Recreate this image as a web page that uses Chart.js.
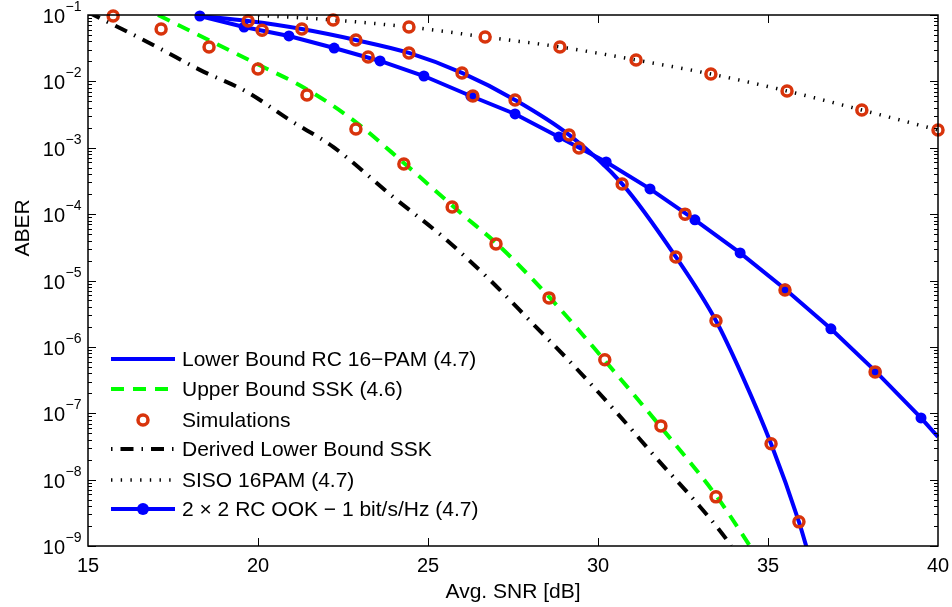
<!DOCTYPE html>
<html><head><meta charset="utf-8">
<style>html,body{margin:0;padding:0;background:#fff}#wrap{width:952px;height:607px;position:relative}</style>
<script src="https://cdn.jsdelivr.net/npm/chart.js@4.4.1/dist/chart.umd.min.js"></script>
</head><body><div id="wrap"><canvas id="c"></canvas></div>
<script>
// ---------------- data ----------------
const xTickValues = [15, 20, 25, 30, 35, 40];
const yTickExponents = [-1, -2, -3, -4, -5, -6, -7, -8, -9];

const lbRcSnr = [18.26, 19.71, 21.29, 22.88, 24.44, 26.0, 27.56, 29.15, 30.71, 32.29, 33.47, 34.26, 35.09, 35.91, 36.15];
const lbRcBer = [0.0966, 0.0812, 0.0615, 0.042, 0.0268, 0.0134, 0.00525, 0.00156, 2.85e-4, 2.26e-5, 2.47e-6, 3.5e-7, 3.46e-8, 2.31e-9, 9e-10];

const ubSskSnr = [17.06, 19.85, 21.38, 22.79, 24.29, 26.03, 27.03, 28.59, 30.18, 31.82, 33.5, 34.47];
const ubSskBer = [0.1, 0.0196, 0.0079, 0.00263, 5.9e-4, 9.7e-5, 3.56e-5, 5.47e-6, 6.4e-7, 6.45e-8, 5.5e-9, 1e-9];

const simSnr = [15.74, 17.15, 18.56, 20.0, 21.44, 22.88, 24.29, 25.71, 27.0, 28.56, 30.2, 31.85, 33.47,
                19.71, 21.29, 22.88, 24.44, 26.0, 27.56, 29.15, 30.71, 32.29, 33.47, 35.09, 35.91,
                20.12, 23.24, 26.32, 29.44, 32.56, 35.5, 38.15,
                22.21, 24.44, 26.68, 28.88, 31.12, 33.32, 35.56, 37.76, 40.0];
const simBer = [0.0966, 0.0615, 0.033, 0.0154, 0.00624, 0.00192, 5.7e-4, 1.28e-4, 3.56e-5, 5.47e-6, 6.4e-7, 6.45e-8, 5.5e-9,
                0.0812, 0.0615, 0.042, 0.0268, 0.0134, 0.00525, 0.00156, 2.85e-4, 2.26e-5, 2.47e-6, 3.46e-8, 2.31e-9,
                0.059, 0.0233, 0.006, 9.9e-4, 1.0e-4, 7.2e-6, 4.2e-7,
                0.0841, 0.0659, 0.0467, 0.033, 0.021, 0.0129, 0.00716, 0.0037, 0.00185];

const dlbSskSnr = [15.0, 15.35, 17.03, 18.29, 19.68, 20.94, 22.21, 23.97, 25.44, 26.82, 28.06, 29.32, 30.56, 31.76, 33.0, 33.79, 33.91];
const dlbSskBer = [0.11, 0.090, 0.033, 0.0149, 0.0069, 0.0026, 0.00103, 1.82e-4, 4.54e-5, 1.02e-5, 2.3e-6, 5.0e-7, 1.01e-7, 1.99e-8, 3.9e-9, 1.24e-9, 1e-9];

const sisoSnr = [20.0, 22.21, 24.44, 26.68, 28.88, 31.12, 33.32, 35.56, 37.76, 40.0];
const sisoBer = [0.099, 0.0841, 0.0659, 0.0467, 0.033, 0.021, 0.0129, 0.00716, 0.0037, 0.00185];

const ookSnr = [18.29, 19.59, 20.91, 22.24, 23.59, 24.88, 26.26, 27.56, 28.85, 30.24, 31.53, 32.85, 34.18, 35.5, 36.85, 38.18, 39.5, 40.0];
const ookBer = [0.0966, 0.0659, 0.0483, 0.0318, 0.0203, 0.01205, 0.00602, 0.00323, 0.001455, 6.1e-4, 2.4e-4, 8.2e-5, 2.6e-5, 7.46e-6, 1.87e-6, 4.2e-7, 8.5e-8, 4.4e-8];

const seriesLabels = ['Lower Bound RC 16\u2212PAM (4.7)', 'Upper Bound SSK (4.6)', 'Simulations',
                      'Derived Lower Bound SSK', 'SISO 16PAM (4.7)', '2 \u00d7 2 RC OOK \u2212 1 bit/s/Hz (4.7)'];
const xTitle = 'Avg. SNR [dB]';
const yTitle = 'ABER';

// ---------------- helpers ----------------
const pts = (xs, ys) => xs.map((v, i) => ({x: v, y: ys[i]}));
const FONT = '"Liberation Sans", Arial, Helvetica, sans-serif';
const BLUE = '#0000ff', GREEN = '#00ff00', RED = '#d8340c', BLACK = '#000000';

const datasets = [
  {label: seriesLabels[2], data: pts(simSnr, simBer), showLine: false, pointRadius: 5, pointBorderWidth: 3.5,
   pointBorderColor: RED, pointBackgroundColor: 'rgba(0,0,0,0)', borderColor: RED, order: 0, clip: false},
  {label: seriesLabels[0], data: pts(lbRcSnr, lbRcBer), borderColor: BLUE, borderWidth: 4, pointRadius: 0,
   cubicInterpolationMode: 'monotone', order: 2},
  {label: seriesLabels[1], data: pts(ubSskSnr, ubSskBer), borderColor: GREEN, borderWidth: 4, borderDash: [13, 9],
   pointRadius: 0, cubicInterpolationMode: 'monotone', order: 3},
  {label: seriesLabels[3], data: pts(dlbSskSnr, dlbSskBer), borderColor: BLACK, borderWidth: 4, borderDash: [13, 8, 1.5, 8],
   pointRadius: 0, cubicInterpolationMode: 'monotone', order: 4},
  {label: seriesLabels[4], data: pts(sisoSnr, sisoBer), borderColor: BLACK, borderWidth: 3.5, borderDash: [1.4, 8.3],
   pointRadius: 0, cubicInterpolationMode: 'monotone', order: 5},
  {label: seriesLabels[5], data: pts(ookSnr, ookBer), borderColor: BLUE, borderWidth: 4, tension: 0,
   pointRadius: c => (c.dataIndex === ookSnr.length - 1 ? 0 : 5.5), pointBackgroundColor: BLUE, pointBorderColor: BLUE,
   pointBorderWidth: 0, order: 1, clip: {left: 1, top: 8, right: 1, bottom: 1}}
];

const legendEntries = [
  {ds: 1, line: true, dash: [], width: 4, color: BLUE},
  {ds: 2, line: true, dash: [13, 9], width: 4, color: GREEN},
  {ds: 0, marker: 'ring'},
  {ds: 3, line: true, dash: [13, 8, 1.5, 8], offset: 21, width: 4, color: BLACK},
  {ds: 4, line: true, dash: [1.4, 8.3], width: 3.5, color: BLACK},
  {ds: 5, line: true, dash: [], width: 4, color: BLUE, marker: 'dot'}
];

const matlabAxes = {
  id: 'matlabAxes',
  beforeDraw(chart) {
    const c = chart.ctx; c.save(); c.fillStyle = '#fff'; c.fillRect(0, 0, chart.width, chart.height); c.restore();
  },
  afterDatasetsDraw(chart) {
    const {ctx, chartArea: a, scales: {x, y}} = chart;
    ctx.save();
    ctx.strokeStyle = '#000'; ctx.lineWidth = 1; ctx.setLineDash([]);
    ctx.beginPath();
    for (const v of xTickValues) {
      if (v === 15 || v === 40) continue;
      const px = Math.round(x.getPixelForValue(v)) + 0.5;
      ctx.moveTo(px, a.bottom); ctx.lineTo(px, a.bottom - 8);
      ctx.moveTo(px, a.top); ctx.lineTo(px, a.top + 8);
    }
    for (const k of yTickExponents) {
      for (let m = 1; m < 10; m++) {
        if (k === -1 && m > 1) break;
        const py = Math.round(y.getPixelForValue(m * Math.pow(10, k))) + 0.5;
        const len = m === 1 ? 8 : 4;
        ctx.moveTo(a.left, py); ctx.lineTo(a.left + len, py);
        ctx.moveTo(a.right, py); ctx.lineTo(a.right - len, py);
      }
    }
    ctx.stroke();
    ctx.lineWidth = 1.5;
    ctx.strokeRect(a.left, a.top, a.right - a.left, a.bottom - a.top);
    ctx.restore();
  },
  afterDraw(chart) {
    const {ctx, chartArea: a, scales: {x, y}} = chart;
    ctx.save();
    ctx.fillStyle = '#000';
    // x tick labels
    ctx.font = '20px ' + FONT; ctx.textAlign = 'center'; ctx.textBaseline = 'alphabetic';
    for (const v of xTickValues) ctx.fillText(String(v), x.getPixelForValue(v), 572);
    // y tick labels with superscript exponent
    for (const k of yTickExponents) {
      const py = y.getPixelForValue(Math.pow(10, k));
      ctx.font = '20px ' + FONT; ctx.textAlign = 'right';
      ctx.fillText('10', 65, py + 8);
      ctx.font = '14px ' + FONT; ctx.textAlign = 'left';
      ctx.fillText('\u2212' + Math.abs(k), 65.5, py - 4);
    }
    // axis titles
    ctx.font = '21px ' + FONT; ctx.textAlign = 'center';
    ctx.fillText(xTitle, (a.left + a.right) / 2, 598);
    ctx.save(); ctx.translate(29, 228); ctx.rotate(-Math.PI / 2); ctx.fillText(yTitle, 0, 0); ctx.restore();
    // legend
    const x0 = 111, x1 = 175, tx = 182, ys = [359, 389, 420, 449, 480, 509];
    legendEntries.forEach((e, i) => {
      const yy = ys[i];
      if (e.line) {
        ctx.save(); ctx.strokeStyle = e.color; ctx.lineWidth = e.width; ctx.setLineDash(e.dash);
        ctx.lineDashOffset = e.offset || 0; ctx.lineCap = 'butt';
        ctx.beginPath(); ctx.moveTo(x0, yy); ctx.lineTo(x1, yy); ctx.stroke(); ctx.restore();
      }
      if (e.marker === 'ring') {
        ctx.save(); ctx.strokeStyle = RED; ctx.lineWidth = 3.5; ctx.beginPath();
        ctx.arc((x0 + x1) / 2, yy, 5, 0, Math.PI * 2); ctx.stroke(); ctx.restore();
      } else if (e.marker === 'dot') {
        ctx.save(); ctx.fillStyle = BLUE; ctx.beginPath();
        ctx.arc((x0 + x1) / 2, yy, 6, 0, Math.PI * 2); ctx.fill(); ctx.restore();
      }
      ctx.font = '21px ' + FONT; ctx.textAlign = 'left'; ctx.textBaseline = 'middle'; ctx.fillStyle = '#000';
      ctx.fillText(chart.data.datasets[e.ds].label, tx, yy + 1);
      ctx.textBaseline = 'alphabetic';
    });
    ctx.restore();
  }
};

new Chart(document.getElementById('c'), {
  type: 'line',
  data: {datasets},
  options: {
    responsive: true, maintainAspectRatio: false, animation: false,
    layout: {padding: {left: 0, right: 14, top: 15, bottom: 0}},
    plugins: {legend: {display: false}, tooltip: {enabled: false}},
    scales: {
      x: {type: 'linear', min: 15, max: 40, grid: {display: false}, border: {display: false},
          ticks: {display: false}, afterFit: s => { s.height = 61; }},
      y: {type: 'logarithmic', min: 1e-9, max: 1e-1, grid: {display: false}, border: {display: false},
          ticks: {display: false}, afterFit: s => { s.width = 88; }}
    }
  },
  plugins: [matlabAxes]
});
</script></body></html>
